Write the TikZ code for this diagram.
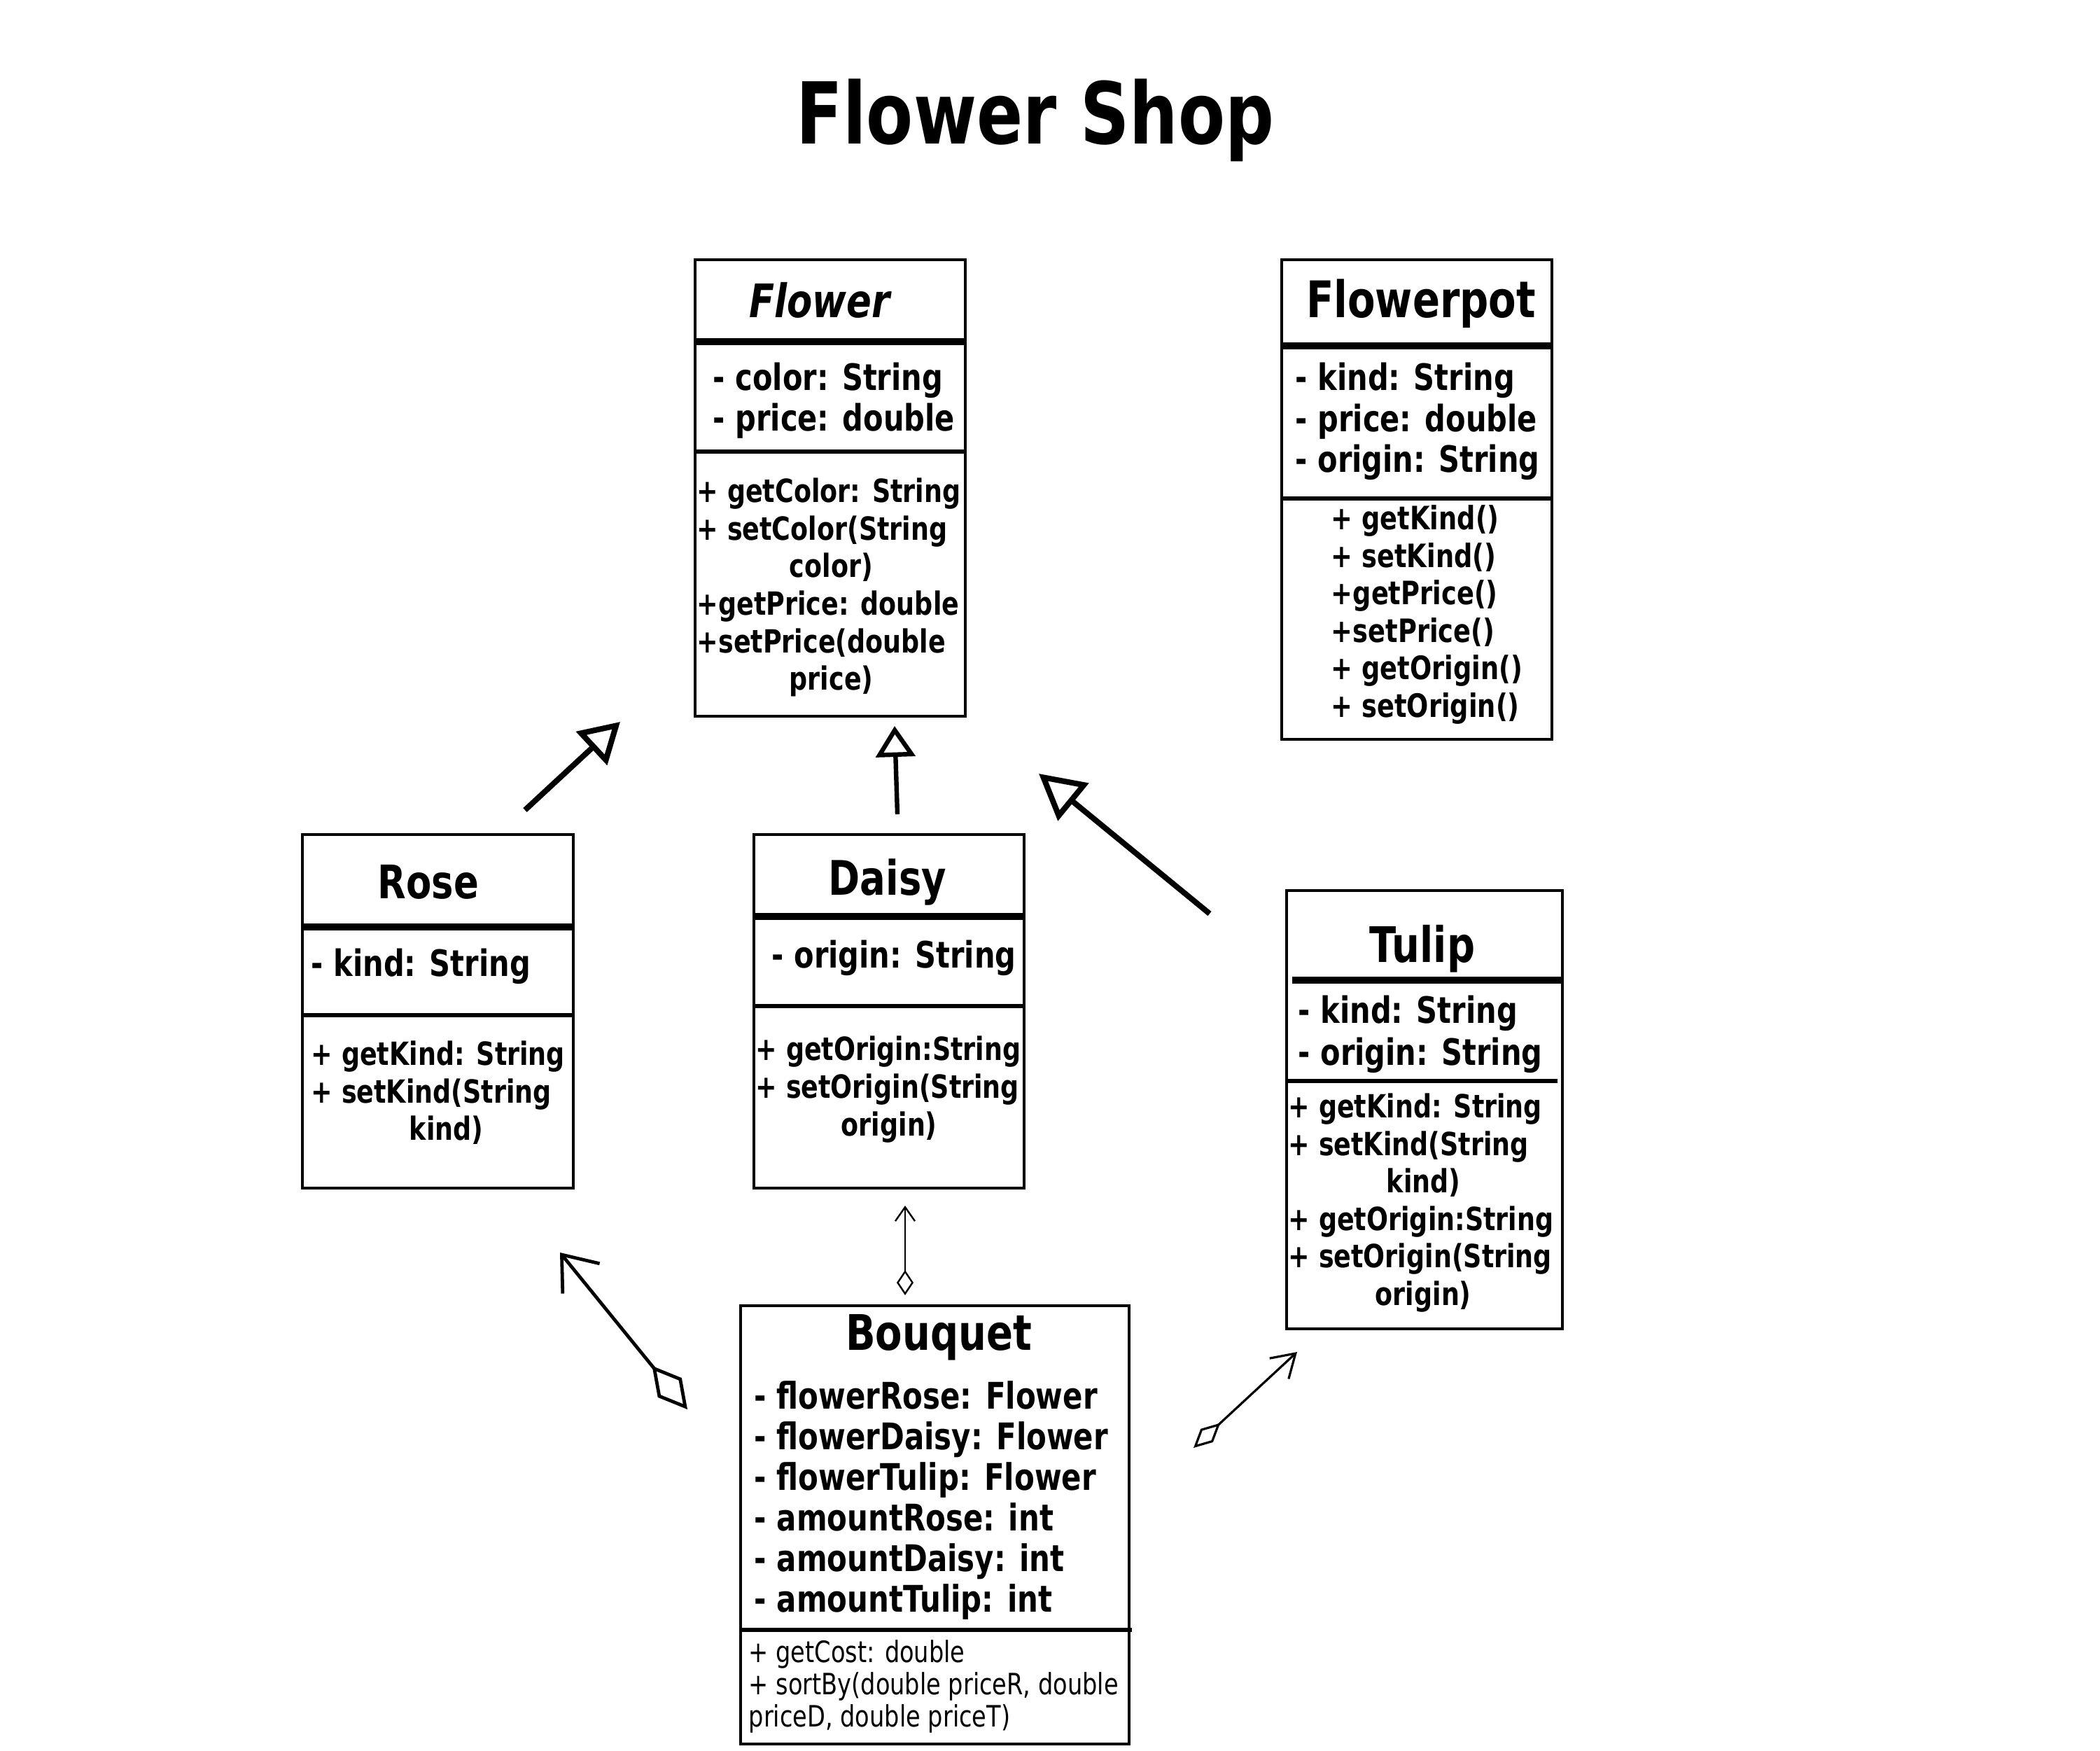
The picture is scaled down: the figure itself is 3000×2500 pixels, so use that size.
\documentclass[tikz,border=0pt]{standalone}
\usepackage{fontspec}
\newfontfamily\dv[FakeStretch=0.8]{DejaVu Sans}
\usetikzlibrary{arrows.meta,fit}
\begin{document}
\begin{tikzpicture}[x=0.25pt,y=-0.25pt,
  box/.style={draw, line width=1pt, inner sep=0pt},
  thicksep/.style={line width=2.4pt},
  thinsep/.style={line width=1.4pt},
  ttl/.style={font=\dv\bfseries\fontsize{30.5pt}{36pt}\selectfont, inner sep=0pt, anchor=base},
  cname/.style={font=\dv\bfseries\fontsize{17.5pt}{21pt}\selectfont, inner sep=0pt, anchor=base},
  attr/.style={font=\dv\bfseries\fontsize{13pt}{14.5pt}\selectfont, inner sep=0pt, anchor=west, align=left},
  meth/.style={font=\dv\bfseries\fontsize{11.4pt}{13.4pt}\selectfont, inner sep=0pt, anchor=west, align=left},
  lmeth/.style={font=\dv\bfseries\fontsize{11.5pt}{13.4pt}\selectfont, inner sep=0pt, anchor=west, align=left},
  bmeth/.style={font=\dv\fontsize{10.5pt}{11.5pt}\selectfont, inner sep=0pt, anchor=west, align=left},
  inh/.style={line width=2pt, line join=miter},
  agg/.style={line width=#1},
]
\fill[white] (0,0) rectangle (3000,2500);
\useasboundingbox (0,0) rectangle (3000,2500);

% title
\node[ttl] (title) at (1479,205) {Flower Shop};

% Flower
\node[box, fit={(993,371) (1379,1023)}] (flower) {};
\node[cname, font=\dv\bfseries\itshape\fontsize{16.5pt}{20pt}\selectfont] (flowerN) at (1171,453) {Flower};
\draw[thicksep] (993,488) -- (1379,488);
\node[attr] (flowerA) at (1018,572) {- color: String\\- price: double};
\draw[thinsep] (993,645) -- (1379,645);
\node[meth] (flowerM) at (995,839) {+ getColor: String\\+ setColor(String\\\hspace*{33pt}color)\\+getPrice: double\\+setPrice(double\\\hspace*{33pt}price)};

% Flowerpot
\node[box, fit={(1831,371) (2217,1056)}] (pot) {};
\node[cname, font=\dv\bfseries\fontsize{18pt}{21pt}\selectfont] (potN) at (2030,453) {Flowerpot};
\draw[thicksep] (1831,494) -- (2217,494);
\node[attr, font=\dv\bfseries\fontsize{13pt}{14.6pt}\selectfont] (potA) at (1850,602) {- kind: String\\- price: double\\- origin: String};
\draw[thinsep] (1831,712) -- (2217,712);
\node[lmeth] (potM) at (1901,878) {+ getKind()\\+ setKind()\\+getPrice()\\+setPrice()\\+ getOrigin()\\+ setOrigin()};

% Rose
\node[box, fit={(432,1192) (819,1697)}] (rose) {};
\node[cname, font=\dv\bfseries\fontsize{16.5pt}{20pt}\selectfont] (roseN) at (612,1283) {Rose};
\draw[thicksep] (432,1324) -- (819,1324);
\node[attr] (roseA) at (444,1380) {- kind: String};
\draw[thinsep] (432,1450) -- (819,1450);
\node[meth] (roseM) at (444,1561) {+ getKind: String\\+ setKind(String\\\hspace*{35pt}kind)};

% Daisy
\node[box, fit={(1077,1192) (1463,1697)}] (daisy) {};
\node[cname, font=\dv\bfseries\fontsize{17pt}{20pt}\selectfont] (daisyN) at (1268,1278) {Daisy};
\draw[thicksep] (1077,1309) -- (1463,1309);
\node[attr] (daisyA) at (1102,1368) {- origin: String};
\draw[thinsep] (1077,1437) -- (1463,1437);
\node[meth] (daisyM) at (1079,1556) {+ getOrigin:String\\+ setOrigin(String\\\hspace*{30.5pt}origin)};

% Tulip
\node[box, fit={(1838,1272) (2232,1898)}] (tulip) {};
\node[cname] (tulipN) at (2032,1374) {Tulip};
\draw[thicksep] (1846,1400) -- (2232,1400);
\node[attr, font=\dv\bfseries\fontsize{13pt}{15pt}\selectfont] (tulipA) at (1854,1477) {- kind: String\\- origin: String};
\draw[thinsep] (1838,1544) -- (2225,1544);
\node[meth] (tulipM) at (1840,1718) {+ getKind: String\\+ setKind(String\\\hspace*{35pt}kind)\\+ getOrigin:String\\+ setOrigin(String\\\hspace*{31pt}origin)};

% Bouquet
\node[box, fit={(1058,1865) (1613,2491)}] (bouquet) {};
\node[cname] (bouquetN) at (1341,1928) {Bouquet};
\node[attr, font=\dv\bfseries\fontsize{13.1pt}{14.5pt}\selectfont] (bouquetA) at (1077,2143) {- flowerRose: Flower\\- flowerDaisy: Flower\\- flowerTulip: Flower\\- amountRose: int\\- amountDaisy: int\\- amountTulip: int};
\draw[thinsep] (1058,2328) -- (1617,2328);
\node[bmeth] (bouquetM) at (1069,2409) {+ getCost: double\\+ sortBy(double priceR, double\\priceD, double priceT)};

% inheritance connectors
\coordinate (rInhS) at (750,1157);
\coordinate (rInhE) at (886,1031);
\coordinate (dInhS) at (1282,1163);
\coordinate (dInhE) at (1278,1037);
\coordinate (tInhS) at (1728,1305);
\coordinate (tInhE) at (1484,1105);
\draw[inh, -{Triangle[open,length=14pt,width=16pt]}] (rInhS) -- (rInhE);
\draw[inh, line width=1.6pt, -{Triangle[open,length=11pt,width=14pt]}] (dInhS) -- (dInhE);
\draw[inh, -{Triangle[open,length=16pt,width=17pt]}] (tInhS) -- (tInhE);

% aggregation connectors
\coordinate (rAggS) at (982,2013);
\coordinate (rAggE) at (800,1789);
\coordinate (dAggS) at (1293,1850);
\coordinate (dAggE) at (1293,1722);
\coordinate (tAggS) at (1705,2068);
\coordinate (tAggE) at (1853,1931);
\draw[agg=1.2pt, {Diamond[open,length=20pt,width=11pt]}-{Straight Barb[length=11pt,width=17pt]}] (rAggS) -- (rAggE);
\draw[agg=0.6pt, {Diamond[open,length=9pt,width=6pt]}-{Straight Barb[length=5pt,width=7pt]}] (dAggS) -- (dAggE);
\draw[agg=0.8pt, {Diamond[open,length=13pt,width=6.5pt]}-{Straight Barb[length=8pt,width=10pt]}] (tAggS) -- (tAggE);
\end{tikzpicture}
\end{document}
